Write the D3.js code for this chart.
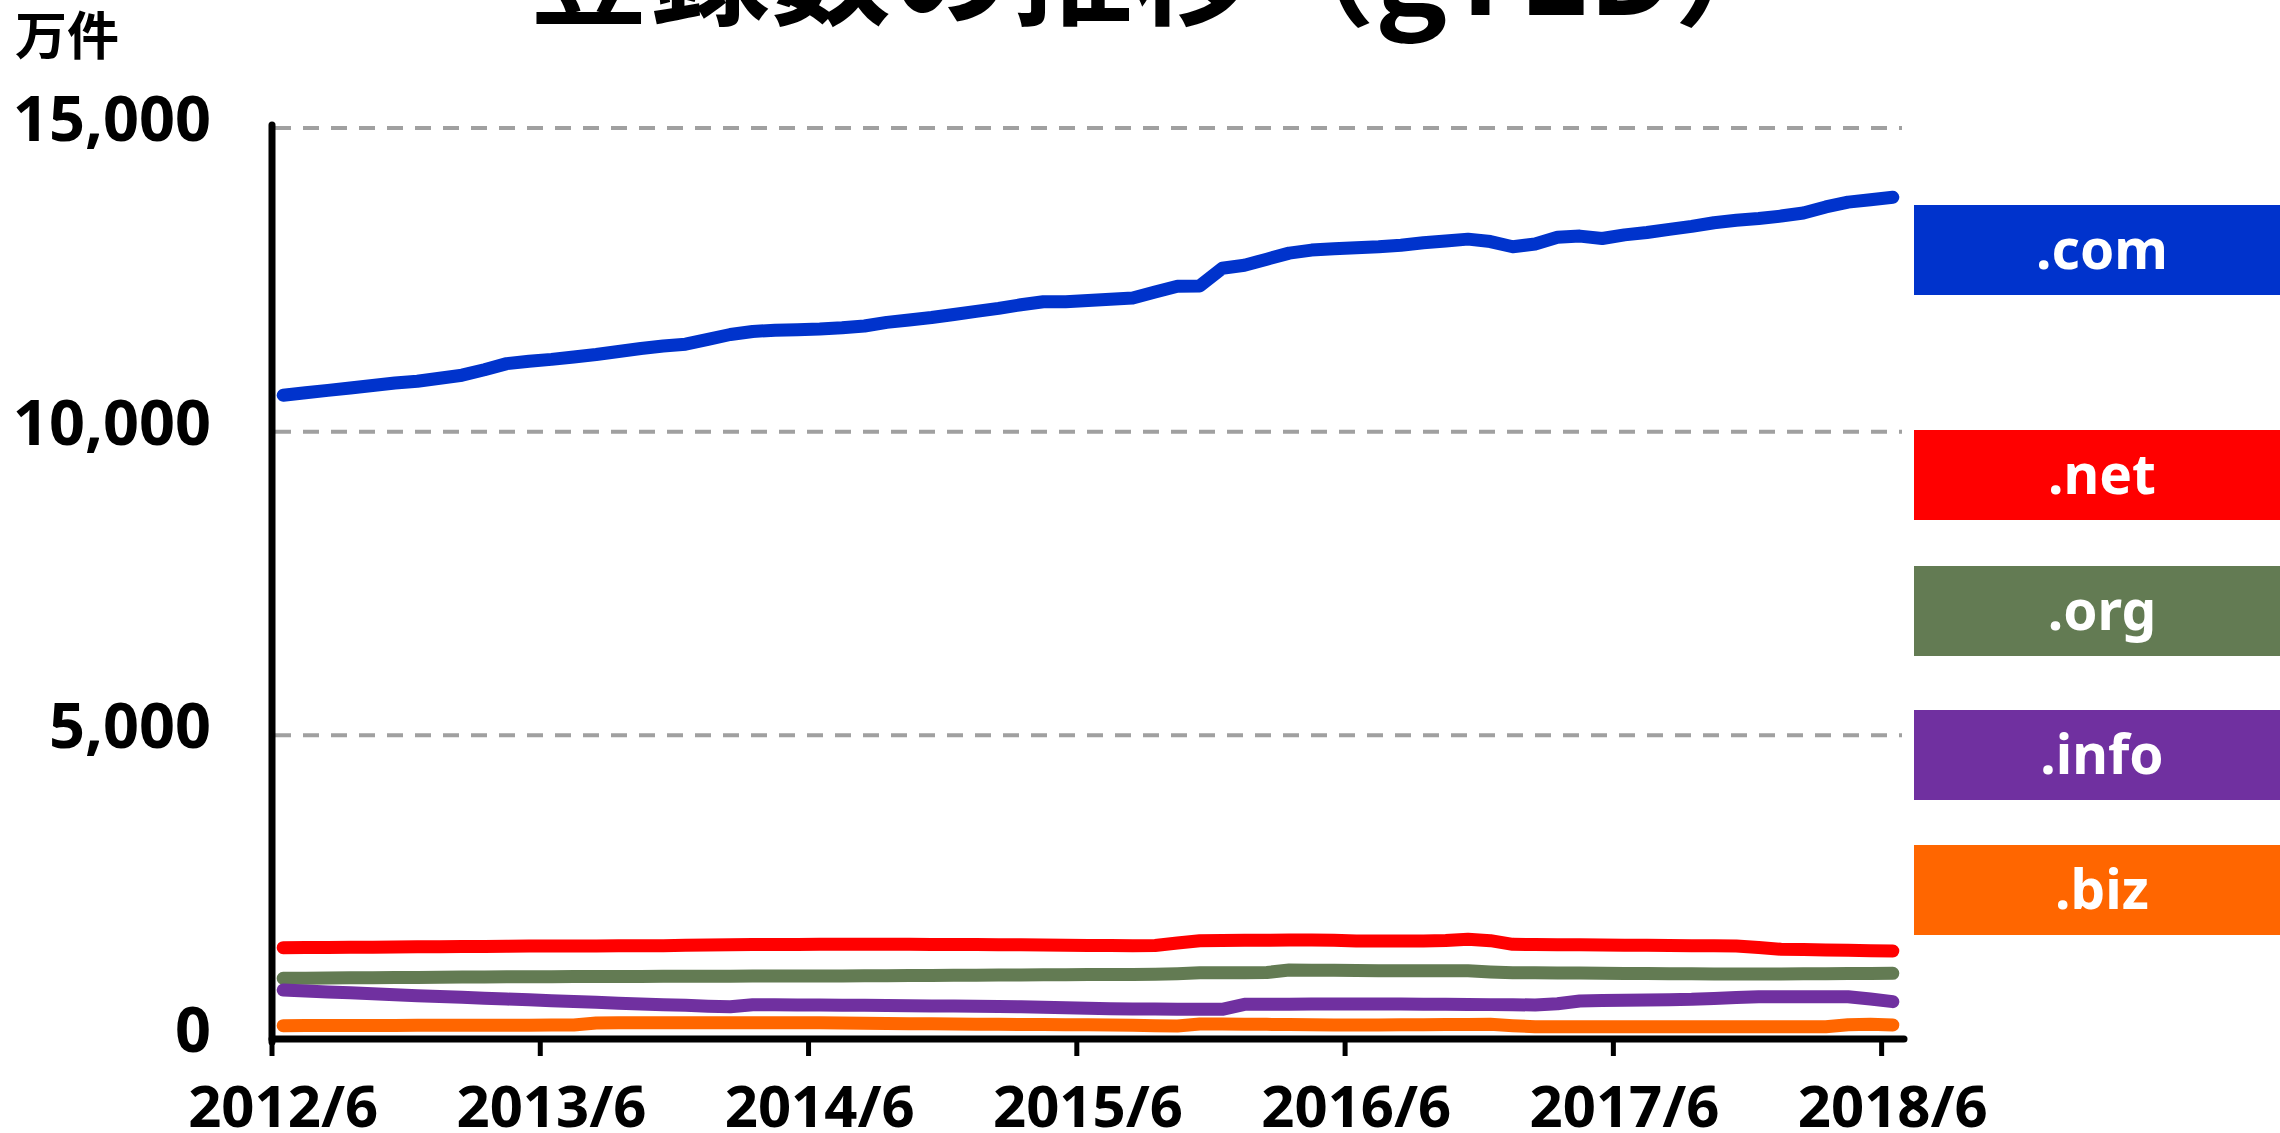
<!DOCTYPE html>
<html><head><meta charset="utf-8">
<script src="https://cdn.jsdelivr.net/npm/d3@7"></script>
<style>
html,body{margin:0;padding:0;background:#fff;overflow:hidden;}
svg{display:block;}
</style></head>
<body>
<script>
// ---------- data ----------
const months = [];
for (let yr = 2012, m = 6; !(yr === 2018 && m === 7); ) {
  months.push(yr + "/" + m);
  m++; if (m > 12) { m = 1; yr++; }
}
const tickLabels = ["2012/6","2013/6","2014/6","2015/6","2016/6","2017/6","2018/6"];
const yTicks = [0, 5000, 10000, 15000];
const yTickLabels = ["0","5,000","10,000","15,000"];
const seriesNames = [".com",".net",".org",".info",".biz"];
const seriesColors = ["#0033CC","#FF0000","#637B53","#7030A0","#FF6600"];

const comValues = [10600,10640,10680,10720,10760,10800,10830,10880,10930,11020,11120,11160,
  11190,11230,11270,11320,11370,11410,11440,11520,11600,11650,11670,11680,
  11690,11710,11740,11800,11840,11880,11930,11980,12030,12090,12140,12140,
  12160,12180,12200,12300,12395,12400,12690,12740,12840,12940,12990,13010,
  13030,13045,13070,13110,13140,13170,13130,13045,13090,13200,13220,13180,
  13240,13280,13330,13380,13440,13480,13510,13550,13600,13700,13780,13820,13860];
const netValues = [1504,1506,1508,1510,1512,1515,1517,1520,1522,1525,1527,1530,
  1531,1532,1533,1535,1536,1537,1542,1546,1551,1555,1557,1558,
  1560,1560,1560,1560,1560,1558,1556,1554,1552,1550,1546,1542,
  1540,1538,1537,1540,1580,1619,1622,1625,1627,1629,1630,1625,
  1612,1612,1613,1614,1620,1641,1619,1559,1556,1553,1550,1548,
  1545,1542,1540,1537,1534,1530,1505,1477,1472,1466,1460,1455,1449];
const orgValues = [999,1002,1004,1007,1009,1012,1014,1017,1019,1021,1024,1026,
  1027,1028,1029,1030,1031,1032,1033,1034,1035,1036,1036,1037,
  1037,1039,1041,1043,1045,1047,1049,1051,1053,1054,1056,1058,
  1060,1062,1063,1065,1075,1092,1092,1092,1095,1136,1133,1130,
  1126,1125,1125,1125,1125,1122,1105,1092,1090,1088,1085,1081,
  1080,1078,1076,1074,1072,1070,1071,1072,1074,1076,1078,1080,1081];
const infoValues = [807,791,775,760,744,728,714,700,686,672,658,645,
  631,617,604,590,576,563,555,540,532,565,563,561,
  560,557,554,551,548,545,542,539,535,532,524,516,
  508,500,494,492,490,489,488,571,573,574,575,576,
  576,576,575,574,572,570,566,563,561,580,626,632,
  637,643,648,653,668,684,697,697,697,697,697,660,615];
const bizValues = [220,221,222,222,223,224,225,225,226,227,228,228,
  229,230,262,268,268,268,268,268,268,268,268,268,
  268,264,260,257,253,250,246,244,242,240,238,236,
  234,232,228,218,214,246,245,243,241,238,235,232,
  230,232,234,236,238,239,241,220,203,203,203,203,
  203,203,203,203,203,203,203,203,203,203,236,241,230];
const seriesValues = [comValues, netValues, orgValues, infoValues, bizValues];

// ---------- drawing ----------
const W = 2280, H = 1133;
const svg = d3.select("body").append("svg").attr("width", W).attr("height", H);
const numFont = "'Noto Sans', 'Liberation Sans', sans-serif";
const cjkFont = "'Noto Sans CJK JP', 'Noto Sans', sans-serif";

const x = d3.scaleBand().domain(months).range([272, 1904]).paddingInner(0).paddingOuter(0);
const y = d3.scaleLinear().domain([0, 15000]).range([1039, 128]);
const cx = d => x(d) + x.bandwidth() / 2;

// title (cut off at top, as in the original)
svg.append("text").attr("x", 528).attr("y", 15)
  .attr("font-family", cjkFont).attr("font-weight", 700).attr("font-size", 121)
  .attr("fill", "#000").text("登録数の推移（gTLD）");

// unit label
svg.append("text").attr("x", 15).attr("y", 55)
  .attr("font-family", cjkFont).attr("font-weight", 700).attr("font-size", 52)
  .attr("fill", "#000").text("万件");

// gridlines
svg.append("g").selectAll("line").data(yTicks.filter(v => v > 0)).join("line")
  .attr("x1", 275).attr("x2", 1902)
  .attr("y1", d => y(d)).attr("y2", d => y(d))
  .attr("stroke", "#A0A0A0").attr("stroke-width", 4).attr("stroke-dasharray", "16 12");

// y tick labels
svg.append("g").selectAll("text").data(yTicks).join("text")
  .attr("x", 211).attr("y", d => y(d) + 13)
  .attr("text-anchor", "end")
  .attr("font-family", numFont).attr("font-weight", 700).attr("font-size", 63)
  .attr("fill", "#000").text((d, i) => yTickLabels[i]);

// series lines
const line = d3.line().x((d, i) => cx(months[i])).y(d => y(d));
svg.append("g").selectAll("path").data(seriesValues).join("path")
  .attr("d", d => line(d))
  .attr("fill", "none")
  .attr("stroke", (d, i) => seriesColors[i])
  .attr("stroke-width", 13)
  .attr("stroke-linecap", "round").attr("stroke-linejoin", "round");

// y axis line
svg.append("line").attr("x1", 272).attr("x2", 272).attr("y1", y(15000) - 3).attr("y2", y(0) + 3)
  .attr("stroke", "#000").attr("stroke-width", 7).attr("stroke-linecap", "round");
// x axis line
svg.append("line").attr("x1", 272).attr("x2", x.range()[1]).attr("y1", y(0)).attr("y2", y(0))
  .attr("stroke", "#000").attr("stroke-width", 7).attr("stroke-linecap", "round");
// x ticks
svg.append("g").selectAll("line").data(tickLabels).join("line")
  .attr("x1", d => x(d)).attr("x2", d => x(d))
  .attr("y1", y(0)).attr("y2", y(0) + 17)
  .attr("stroke", "#000").attr("stroke-width", 5);
// x labels
svg.append("g").selectAll("text").data(tickLabels).join("text")
  .attr("x", d => cx(d)).attr("y", 1127)
  .attr("text-anchor", "middle")
  .attr("font-family", numFont).attr("font-weight", 700).attr("font-size", 58)
  .attr("fill", "#000").text(d => d);

// legend boxes
const legendTops = [205, 430, 566, 710, 845];
const lg = svg.append("g").selectAll("g").data(seriesNames).join("g");
lg.append("rect").attr("x", 1914).attr("y", (d, i) => legendTops[i])
  .attr("width", 376).attr("height", 90).attr("fill", (d, i) => seriesColors[i]);
lg.append("text").attr("x", 2102).attr("y", (d, i) => legendTops[i] + 45)
  .attr("dy", "0.35em").attr("text-anchor", "middle")
  .attr("font-family", numFont).attr("font-weight", 700).attr("font-size", 55)
  .attr("fill", "#fff").text(d => d);
</script>
</body></html>
